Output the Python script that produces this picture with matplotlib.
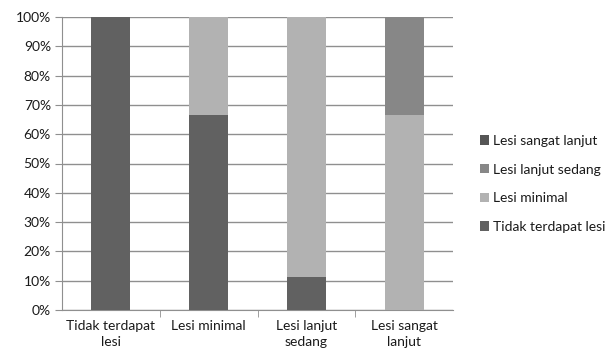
import matplotlib
matplotlib.use("Agg")
import matplotlib.pyplot as plt
import numpy as np

categories = ["Tidak terdapat\nlesi", "Lesi minimal", "Lesi lanjut\nsedang", "Lesi sangat\nlanjut"]
series_names = ["Tidak terdapat lesi", "Lesi minimal", "Lesi lanjut sedang", "Lesi sangat lanjut"]
tidak_terdapat = [100.0, 66.7, 11.1, 0.0]
lesi_minimal = [0.0, 33.3, 88.9, 66.7]
lanjut_sedang = [0.0, 0.0, 0.0, 33.3]
sangat_lanjut = [0.0, 0.0, 0.0, 0.0]
colors = ["#616161", "#b2b2b2", "#878787", "#555555"]

plt.rcParams['font.family'] = ['Lato', 'DejaVu Sans']
FS = 10

fig = plt.figure(figsize=(6.14, 3.56), dpi=100)
ax = fig.add_axes([62/614, 1-310/356, 391/614, 293/356])

x = np.arange(len(categories))
bottom = np.zeros(len(categories))
handles = []
for name, vals, c in zip(series_names, [tidak_terdapat, lesi_minimal, lanjut_sedang, sangat_lanjut], colors):
    h = ax.bar(x, vals, width=0.4, bottom=bottom, color=c, label=name, zorder=3)
    handles.append(h)
    bottom += np.array(vals)

ax.set_xlim(-0.5, len(categories) - 0.5)
ax.set_ylim(0, 100)
ax.set_yticks(np.arange(0, 101, 10))
ax.set_yticklabels([f"{v}%" for v in range(0, 101, 10)], fontsize=FS, color="#1a1a1a")
ax.yaxis.grid(True, color="#8f8f8f", linewidth=1.0, zorder=0)
ax.tick_params(axis='y', length=5, color="#8f8f8f", pad=3)

ax.set_xticks(x)
ax.set_xticklabels(categories, fontsize=FS, color="#1a1a1a", linespacing=1.45)
ax.set_xticks(np.arange(0.5, len(categories) - 0.5, 1.0), minor=True)
ax.tick_params(axis='x', which='major', length=0, pad=7)
ax.tick_params(axis='x', which='minor', length=5, color="#8f8f8f")

for s in ["top", "right"]:
    ax.spines[s].set_visible(False)
for s in ["left", "bottom"]:
    ax.spines[s].set_color("#8f8f8f")

fig.legend(handles[::-1], series_names[::-1], loc="center left",
           bbox_to_anchor=(467/614, 1-184/356), frameon=False, fontsize=FS,
           handlelength=0.65, handleheight=0.65, handletextpad=0.3, labelspacing=1.2,
           labelcolor="#1a1a1a")

fig.savefig("out.png", dpi=100)
